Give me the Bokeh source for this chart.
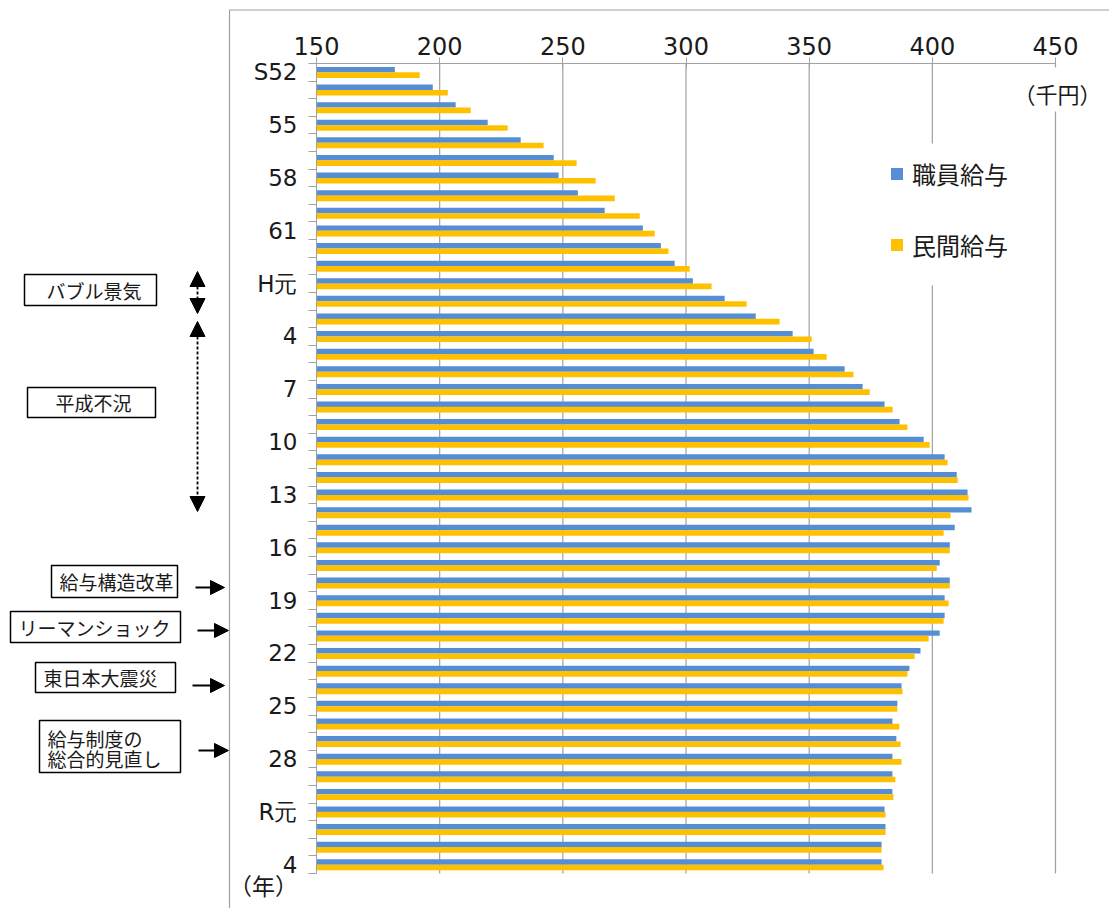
from bokeh.plotting import figure
from bokeh.models import (ColumnDataSource, FixedTicker, Legend, LegendItem, Label,
                          BoxAnnotation, Arrow, NormalHead, Range1d)
from bokeh.core.properties import value
from bokeh.embed import file_html
from bokeh.resources import INLINE

# ---------------- data ----------------
years = ["S52", "S53", "S54", "S55", "S56", "S57", "S58", "S59", "S60", "S61", "S62", "S63",
         "H元", "H2", "H3", "H4", "H5", "H6", "H7", "H8", "H9", "H10",
         "H11", "H12", "H13", "H14", "H15", "H16", "H17", "H18", "H19", "H20",
         "H21", "H22", "H23", "H24", "H25", "H26", "H27", "H28", "H29", "H30",
         "R元", "R2", "R3", "R4"]

staff_salary = [181.8, 197.2, 206.5, 219.5, 232.9, 246.3, 248.3, 256.1, 267.0, 282.5, 289.8, 295.4,
                302.8, 315.7, 328.3, 343.3, 351.8, 364.4, 371.7, 380.6, 386.7, 396.5,
                405.0, 409.9, 414.3, 415.9, 409.1, 407.1, 403.0, 407.1, 405.0, 405.0,
                403.0, 395.2, 390.7, 387.5, 385.8, 383.8, 385.4, 383.8, 383.8, 383.8,
                380.6, 381.0, 379.4, 379.4]

private_salary = [191.9, 203.3, 212.6, 227.6, 242.2, 255.6, 263.3, 271.1, 281.2, 287.3, 292.9, 301.5,
                  310.4, 324.6, 338.0, 351.0, 357.1, 368.0, 374.6, 383.9, 389.9, 398.9,
                  406.2, 410.3, 414.7, 407.4, 404.6, 407.1, 401.8, 407.1, 406.6, 404.6,
                  398.5, 392.8, 389.9, 387.9, 385.8, 386.6, 387.1, 387.5, 385.0, 384.2,
                  381.0, 381.0, 379.4, 380.2]

tick_years = ["S52", "S55", "S58", "S61", "H元", "H4", "H7", "H10", "H13", "H16",
              "H19", "H22", "H25", "H28", "R元", "R4"]
tick_texts = ["S52", "55", "58", "61", "H元", "4", "7", "10", "13", "16",
              "19", "22", "25", "28", "R元", "4"]

x_ticks = [150, 200, 250, 300, 350, 400, 450]

series_names = ["職員給与", "民間給与"]
unit_text = "（千円）"
year_unit_text = "（年）"

# left-side annotations: (text lines, box px [l, r, t, b], text start px, line centers px)
events = [
    (["バブル景気"], (24, 156, 274, 305), 46, [290]),
    (["平成不況"], (27, 155, 387, 417), 55, [402]),
    (["給与構造改革"], (51, 177, 565, 597), 59, [581]),
    (["リーマンショック"], (10, 180, 611, 642), 18, [627]),
    (["東日本大震災"], (35, 175, 662, 692), 43, [677]),
    (["給与制度の", "総合的見直し"], (39, 180, 720, 772), 47, [738, 758]),
]
# double-headed dashed period arrows (x, y_top, y_bottom) in px
period_arrows = [(197, 271, 313), (197, 321, 511)]
# single right arrows (x_start, x_end, y) in px
event_arrows = [(195, 224, 587), (197, 228, 630), (192, 224, 685), (198, 228, 750)]

# ---------------- style / layout ----------------
BLUE = "#558ED5"
GOLD = "#FFC000"
GRAY = "#A0A0A0"
TXT = "#1a1a1a"
JP = "Noto Sans CJK JP"

W, H = 1109, 908
PL, PR, PT, PB = 316, 1055, 63, 873  # plot-area edges in canvas px

n = len(years)
XMIN, XMAX = 150, 450
kx = (PR - PL) / (XMAX - XMIN)
ky = (PB - PT) / n
x_range = Range1d(XMIN - PL / kx, XMIN + (W - PL) / kx)
y_range = Range1d(n - 0.5 + (H - PB) / ky, -0.5 - PT / ky)

idx = list(range(n))
src = ColumnDataSource(dict(
    yb=[i - 0.15 for i in idx],
    ym=[i + 0.16 for i in idx],
    staff=staff_salary,
    private=private_salary,
))

p = figure(width=W, height=H, x_range=x_range, y_range=y_range,
           x_axis_location="above", output_backend="svg", toolbar_location=None,
           min_border=0, min_border_left=0, min_border_right=0, min_border_top=0,
           min_border_bottom=0)
p.outline_line_color = None
p.background_fill_color = "white"
p.border_fill_color = "white"
p.xgrid.visible = False
p.ygrid.visible = False

# vertical grid lines within the plot area
grid_src = ColumnDataSource(dict(x=x_ticks[1:], y0=[-0.5] * (len(x_ticks) - 1),
                                 y1=[n - 0.5] * (len(x_ticks) - 1)))
p.segment(x0="x", y0="y0", x1="x", y1="y1", source=grid_src, line_color=GRAY,
          line_width=1.2, level="underlay")

r1 = p.hbar(y="yb", left=XMIN, right="staff", height=0.31, source=src,
            fill_color=BLUE, line_color=None)
r2 = p.hbar(y="ym", left=XMIN, right="private", height=0.32, source=src,
            fill_color=GOLD, line_color=None)

# x axis (top of plot area)
xa = p.xaxis[0]
xa.fixed_location = -0.5
xa.bounds = (XMIN, XMAX)
xa.ticker = FixedTicker(ticks=x_ticks)
xa.axis_line_color = GRAY
xa.major_tick_line_color = GRAY
xa.major_tick_out = 6
xa.major_tick_in = 5
xa.minor_tick_line_color = None
xa.major_label_text_font = "DejaVu Sans"
xa.major_label_text_font_size = "24px"
xa.major_label_text_color = TXT
xa.major_label_standoff = 3

# y axis (left of plot area)
ya = p.yaxis[0]
ya.fixed_location = XMIN
ya.bounds = (-0.5, n - 0.5)
tick_pos = [years.index(y) for y in tick_years]
ya.ticker = FixedTicker(ticks=tick_pos, minor_ticks=[i - 0.5 for i in range(n + 1)])
ya.major_label_overrides = {pos: t for pos, t in zip(tick_pos, tick_texts)}
ya.axis_line_color = GRAY
ya.major_tick_out = 0
ya.major_tick_in = 0
ya.minor_tick_out = 8
ya.minor_tick_in = 0
ya.minor_tick_line_color = GRAY
ya.major_tick_line_color = None
ya.major_label_text_font = "DejaVu Sans"
ya.major_label_text_font_size = "23px"
ya.major_label_text_color = TXT
ya.major_label_standoff = 11


def sx(x):
    return x


def sy(y):
    return H - y


# white patches breaking the grid lines behind legend and unit label
p.add_layout(BoxAnnotation(left=sx(870), right=sx(1020), top=sy(143), bottom=sy(285),
                           left_units="screen", right_units="screen",
                           top_units="screen", bottom_units="screen",
                           fill_color="white", fill_alpha=1.0, line_color=None))
p.add_layout(BoxAnnotation(left=sx(1020), right=sx(1095), top=sy(67), bottom=sy(111),
                           left_units="screen", right_units="screen",
                           top_units="screen", bottom_units="screen",
                           fill_color="white", fill_alpha=1.0, line_color=None))

# legend
legend = Legend(items=[LegendItem(label=value(series_names[0]), renderers=[r1]),
                       LegendItem(label=value(series_names[1]), renderers=[r2])],
                location=(889, sy(262)), orientation="vertical",
                padding=0, margin=0, spacing=36, glyph_width=15, glyph_height=15,
                label_standoff=8, label_height=26,
                label_text_font=JP, label_text_font_size="24px", label_text_color=TXT,
                border_line_color=None, background_fill_alpha=0.0)
p.add_layout(legend)

# unit labels
p.add_layout(Label(x=sx(1057), y=sy(92), x_units="screen", y_units="screen", text=unit_text,
                   text_align="center", text_baseline="middle", text_font=JP,
                   text_font_size="22px", text_color=TXT))
p.add_layout(Label(x=sx(263), y=sy(884), x_units="screen", y_units="screen",
                   text=year_unit_text, text_align="center", text_baseline="middle",
                   text_font=JP, text_font_size="23px", text_color=TXT))

# outer chart border (top and left)
p.add_layout(Arrow(x_start=sx(229), y_start=sy(9.5), x_end=sx(W + 5), y_end=sy(9.5),
                   start_units="screen", end_units="screen", end=None,
                   line_color=GRAY, line_width=1.2))
p.add_layout(Arrow(x_start=sx(229), y_start=sy(9.5), x_end=sx(229), y_end=sy(H + 5),
                   start_units="screen", end_units="screen", end=None,
                   line_color=GRAY, line_width=1.2))

# event boxes and texts
for lines, (bl, br, bt, bb), tx, ys in events:
    p.add_layout(BoxAnnotation(left=sx(bl), right=sx(br), top=sy(bt), bottom=sy(bb),
                               left_units="screen", right_units="screen",
                               top_units="screen", bottom_units="screen",
                               fill_color="white", fill_alpha=1.0,
                               line_color="black", line_width=1.5, line_alpha=1.0))
    for t, yy in zip(lines, ys):
        p.add_layout(Label(x=sx(tx), y=sy(yy), x_units="screen", y_units="screen",
                           text=t, text_align="left", text_baseline="middle",
                           text_font=JP, text_font_size="19px", text_color=TXT))

for x, yt, yb in period_arrows:
    p.add_layout(Arrow(x_start=sx(x), y_start=sy(yt), x_end=sx(x), y_end=sy(yb),
                       start_units="screen", end_units="screen",
                       start=NormalHead(size=15, fill_color="black", line_color="black"),
                       end=NormalHead(size=15, fill_color="black", line_color="black"),
                       line_color="black", line_width=1.8, line_dash="3 2"))

for x0, x1, yy in event_arrows:
    p.add_layout(Arrow(x_start=sx(x0), y_start=sy(yy), x_end=sx(x1), y_end=sy(yy),
                       start_units="screen", end_units="screen",
                       end=NormalHead(size=14, fill_color="black", line_color="black"),
                       line_color="black", line_width=1.8))

open("out.html", "w").write(file_html(p, INLINE))
